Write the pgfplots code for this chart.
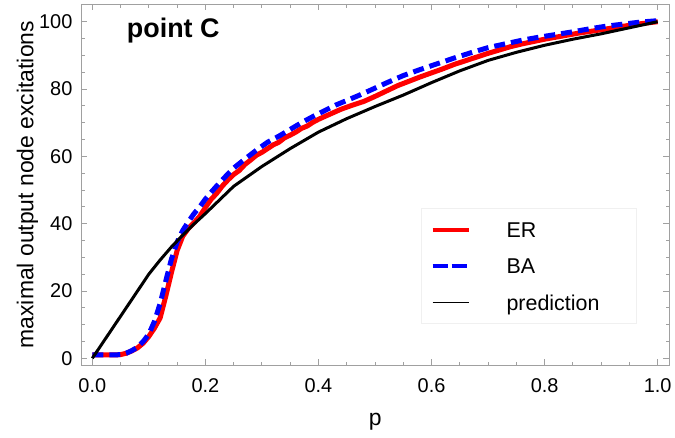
\documentclass[border=0pt]{standalone}
\usepackage{fontspec}
\setmainfont{Liberation Sans}
\usepackage{pgfplots}
\pgfplotsset{compat=1.18}
\definecolor{framegray}{RGB}{160,160,160}
\begin{document}
\begin{tikzpicture}
\useasboundingbox (0,0) rectangle (675bp,438bp);
\begin{axis}[
  at={(81bp,73bp)}, anchor=south west,
  scale only axis, width=588.3bp, height=360.7bp,
  xmin=-0.02, xmax=1.0205, ymin=-1.99, ymax=105.17,
  xtick={0,0.2,0.4,0.6,0.8,1.0},
  xticklabels={0.0,0.2,0.4,0.6,0.8,1.0},
  ytick={0,20,40,60,80,100},
  minor x tick num=3, minor y tick num=3,
  tick pos=both, tick align=inside,
  major tick length=6bp, minor tick length=3.5bp,
  every tick/.style={framegray, line width=0.9bp},
  axis line style={framegray, line width=1bp},
  /pgf/number format/assume math mode=true,
  ticklabel style={font=\fontsize{20}{20}\selectfont},
  xticklabel style={anchor=base, yshift=-27.3bp},
  yticklabel style={inner xsep=8.4bp},
  xlabel={p}, ylabel={maximal output node excitations},
  label style={font=\fontsize{23}{23}\selectfont},
  xlabel style={at={(axis description cs:0.5,-0.169)}, anchor=base},
  ylabel style={at={(axis description cs:-0.0811,0.5)}, anchor=base},
  legend image code/.code={\draw[#1] (0bp,0bp) -- (36bp,0bp);},
  legend cell align=left,
  legend style={at={(rel axis cs:0.5774,0.4344)}, anchor=north west,
    draw=gray!12, fill=white, line width=0.8bp,
    inner xsep=9.3bp, inner ysep=13.5bp, row sep=20.9bp,
    font=\fontsize{21.5}{21.5}\selectfont,
    nodes={inner xsep=0pt, inner ysep=0pt, text height=15.4bp, text depth=0pt},
    /tikz/every odd column/.append style={column sep=35.7bp}},
]
\addplot[red, line width=5bp, line join=round, forget plot] coordinates {
(0,1) (0.01,1) (0.02,1) (0.03,1) (0.04,1) (0.05,1.1) (0.06,1.5) (0.07,2.2)
(0.08,3.1) (0.09,4.5) (0.10,6.5) (0.11,9.0) (0.12,12.0) (0.13,18.5) (0.14,25.5)
(0.15,32) (0.16,36.3) (0.17,38.6) (0.18,40.3) (0.19,42.2) (0.20,44.8) (0.21,47.2)
(0.22,49.0) (0.23,51.2) (0.24,53.0) (0.25,54.6) (0.26,55.8) (0.27,57.6) (0.28,58.9)
(0.29,60.3) (0.30,61.2) (0.31,62.3) (0.32,63.4) (0.33,64.2) (0.34,65.5) (0.35,66.3)
(0.36,67.2) (0.37,68.3) (0.38,69.0) (0.39,70.1) (0.40,71.0) (0.42,72.5) (0.44,74.0)
(0.46,75.2) (0.48,76.3) (0.50,77.8) (0.52,79.4) (0.54,81.0) (0.56,82.3) (0.58,83.6)
(0.60,84.8) (0.62,86.0) (0.64,87.3) (0.66,88.4) (0.68,89.5) (0.70,90.6) (0.72,91.6)
(0.74,92.6) (0.76,93.4) (0.78,94.1) (0.80,94.8) (0.83,95.7) (0.86,96.6) (0.90,97.6)
(0.93,98.4) (0.96,99.2) (1.0,100)
};
\addplot[blue, line width=5bp, dash pattern=on 11bp off 6bp, forget plot] coordinates {
(0,1) (0.02,1) (0.04,1) (0.05,1.1) (0.06,1.5) (0.07,2.3) (0.08,3.3) (0.09,5.0)
(0.10,7.2) (0.11,11) (0.12,16.3) (0.13,23) (0.14,29.5) (0.15,34.5) (0.16,38)
(0.17,40.6) (0.18,43) (0.19,45) (0.20,47.3) (0.21,49.3) (0.22,51.2) (0.23,53.0)
(0.24,54.8) (0.25,56.5) (0.27,59.2) (0.29,61.8) (0.31,64.2) (0.33,66.0) (0.35,68.0)
(0.37,70.0) (0.39,71.8) (0.41,73.5) (0.43,75.2) (0.45,76.6) (0.47,78.0) (0.49,79.5)
(0.52,81.8) (0.55,84.0) (0.58,85.8) (0.61,87.5) (0.64,89.2) (0.67,90.8) (0.70,92.3)
(0.73,93.4) (0.76,94.5) (0.79,95.4) (0.82,96.2) (0.85,97.0) (0.88,97.9) (0.91,98.7)
(0.94,99.3) (0.97,99.9) (1.0,100.3)
};
\addplot[black, line width=3bp, line join=round, forget plot] coordinates {
(0,0) (0.1,25) (0.12,29.2) (0.14,33.1) (0.16,36.6) (0.18,39.9) (0.2,43) (0.25,51.1)
(0.3,57) (0.35,62.3) (0.4,67.2) (0.45,71.2) (0.5,74.8) (0.55,78.2) (0.6,81.9)
(0.65,85.4) (0.7,88.5) (0.75,90.9) (0.8,93) (0.85,94.8) (0.9,96.4) (0.95,98.2) (1.0,100)
};
\addlegendimage{red, line width=4.5bp}
\addlegendentry{ER}
\addlegendimage{blue, line width=4.5bp, dash pattern=on 15bp off 4bp}
\addlegendentry{BA}
\addlegendimage{black, line width=0.8bp}
\addlegendentry{\makebox[120.7bp][l]{prediction}}
\node[anchor=base west, inner sep=0pt, font=\fontsize{27}{27}\selectfont\bfseries]
  at (rel axis cs:0.0777,0.9085) {point C};
\end{axis}
\end{tikzpicture}
\end{document}
